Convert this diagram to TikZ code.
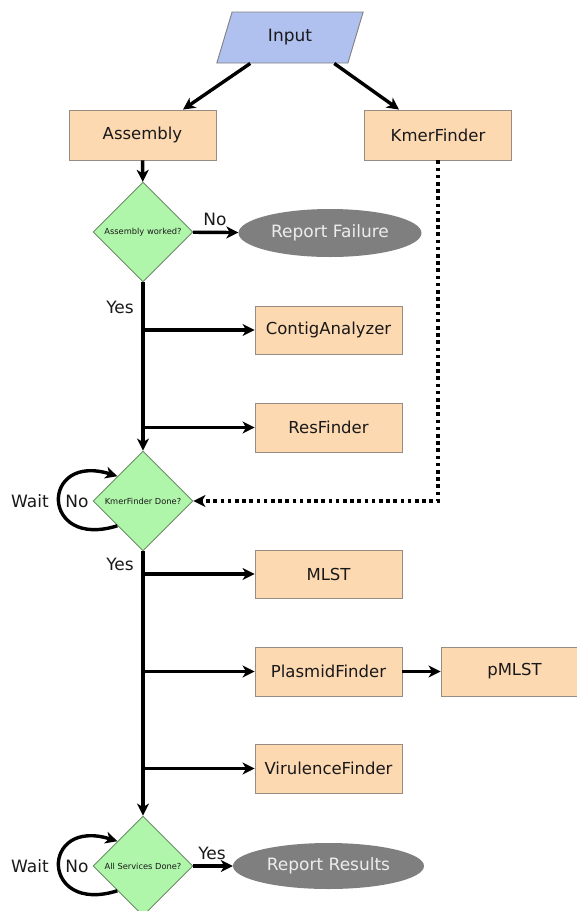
\documentclass[tikz,border=0pt]{standalone}
\usepackage{fontspec}
\setmainfont{DejaVu Sans}
\usetikzlibrary{shapes.geometric,arrows.meta,calc}
\definecolor{peach}{RGB}{253,217,178}
\definecolor{boxline}{RGB}{150,140,130}
\definecolor{mint}{RGB}{175,245,170}
\definecolor{mintline}{RGB}{110,140,105}
\definecolor{periw}{RGB}{176,193,240}
\definecolor{ovalgray}{RGB}{127,127,127}
\definecolor{ink}{RGB}{25,25,25}
\begin{document}
\begin{tikzpicture}[x=1pt,y=-1pt,
  every node/.style={text=ink},
  procbox/.style={rectangle,draw=boxline,line width=0.9pt,fill=peach,minimum width=147pt,minimum height=49pt,inner sep=0pt,font=\fontsize{16.5}{19}\selectfont},
  decision/.style={diamond,aspect=1,draw=mintline,line width=0.9pt,fill=mint,minimum width=100pt,minimum height=100pt,inner sep=0pt,font=\fontsize{8.3}{9}\selectfont},
  terminal/.style={ellipse,draw=none,fill=ovalgray,inner sep=0pt,text=white!93!black,font=\fontsize{17}{20}\selectfont},
  iobox/.style={trapezium,trapezium left angle=70,trapezium right angle=110,trapezium stretches=true,draw=gray,line width=0.9pt,fill=periw,minimum width=147pt,minimum height=51pt,inner sep=0pt,font=\fontsize{17}{20}\selectfont},
  lbl/.style={font=\fontsize{17}{20}\selectfont,inner sep=0pt},
  flow/.style={line width=3.4pt,-{Stealth[length=12pt,width=12pt,inset=3.5pt]}},
  dotflow/.style={line width=3.6pt,dash pattern=on 3.6pt off 3.6pt,-{Stealth[length=12pt,width=12pt,inset=3.5pt]}}
]
\useasboundingbox (0,0) rectangle (577,911);

\node[iobox] (input) at (290,37.5) {Input};
\node[procbox,minimum height=50pt] (asm) at (142.5,135) {Assembly};
\node[procbox,minimum height=50pt] (kmer) at (438,135) {KmerFinder};
\node[decision] (d1) at (143,232) {Assembly worked?};
\node[terminal,minimum width=183pt,minimum height=48pt] (fail) at (330,233) {Report Failure};
\node[procbox,minimum height=48pt] (contig) at (328.5,330) {ContigAnalyzer};
\node[procbox] (res) at (328.5,427.5) {ResFinder};
\node[decision] (d2) at (143,501) {KmerFinder Done?};
\node[procbox,minimum height=48pt] (mlst) at (328.5,574) {MLST};
\node[procbox] (plasmid) at (328.5,671.5) {PlasmidFinder};
\node[procbox] (pmlst) at (514.5,671.5) {pMLST};
\node[procbox] (vir) at (328.5,768.5) {VirulenceFinder};
\node[decision] (d3) at (143,866) {All Services Done?};
\node[terminal,minimum width=191pt,minimum height=46pt] (results) at (328.5,866) {Report Results};

% connectors
\draw[flow] (input.bottom left corner) ++(34,0) coordinate (ia) -- (asm.north -| 183,0);
\draw[flow] (input.bottom right corner) ++(-14,0) coordinate (ib) -- (kmer.north -| 399,0);
\draw[flow] (asm) -- (d1);
\draw[flow] (d1) -- (fail);
\draw[flow] (d1) -- (d2);
\coordinate (t1) at (d1.south |- contig.west);
\coordinate (t2) at (d1.south |- res.west);
\draw[flow] (t1) -- (contig);
\draw[flow] (t2) -- (res);
\draw[dotflow] (kmer.south) |- (d2.east);
\draw[flow] (d2.224) .. controls (40,550) and (40,452) .. (d2.136);
\draw[flow] (d2) -- (d3);
\coordinate (t3) at (d2.south |- mlst.west);
\coordinate (t4) at (d2.south |- plasmid.west);
\coordinate (t5) at (d2.south |- vir.west);
\draw[flow] (t3) -- (mlst);
\draw[flow] (t4) -- (plasmid);
\draw[flow] (t5) -- (vir);
\draw[flow] (plasmid) -- (pmlst);
\draw[flow] (d3.224) .. controls (40,915) and (40,817) .. (d3.136);
\draw[flow] (d3) -- (results);

% labels
\node[lbl] (no1) at (215,219) {No};
\node[lbl] (yes1) at (120,307) {Yes};
\node[lbl] (no2) at (77,501) {No};
\node[lbl] (wait2) at (30,501) {Wait};
\node[lbl] (yes2) at (120,564) {Yes};
\node[lbl] (yes3) at (212,853) {Yes};
\node[lbl] (no3) at (77,866) {No};
\node[lbl] (wait3) at (30,866) {Wait};
\end{tikzpicture}
\end{document}
